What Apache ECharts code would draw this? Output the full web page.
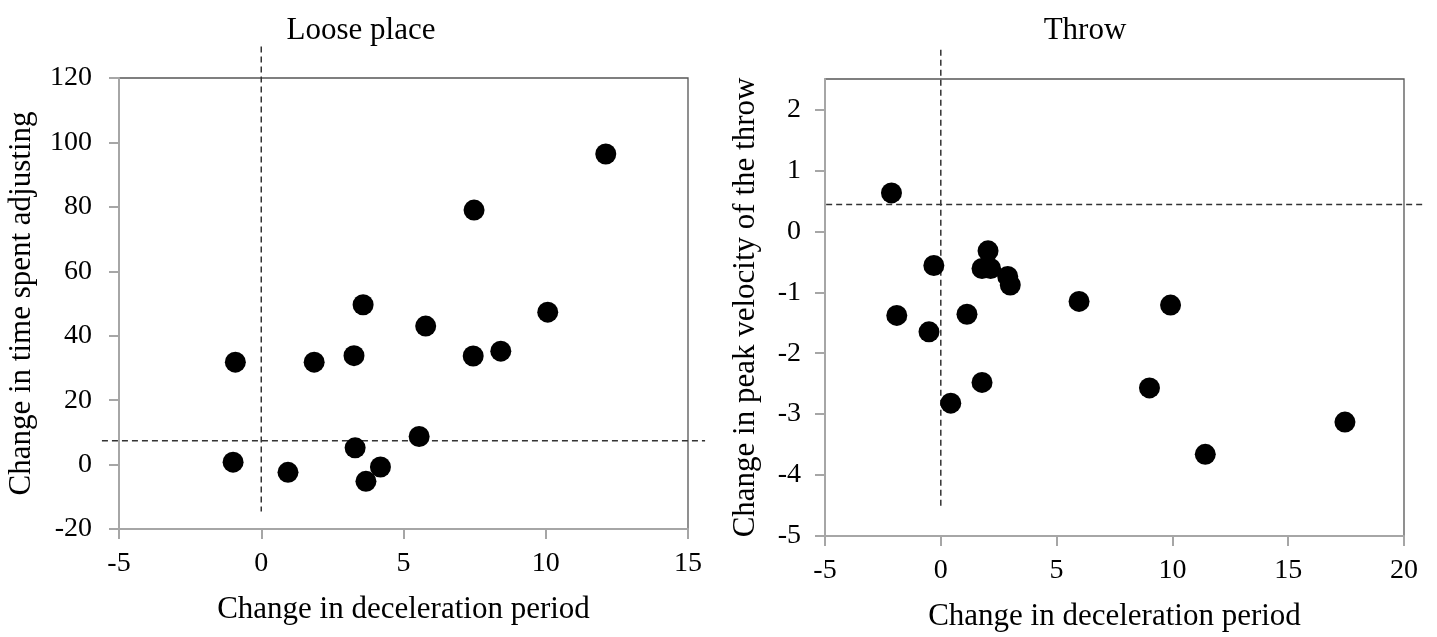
<!doctype html>
<html lang="en">
<head>
  <meta charset="utf-8">
  <title>Loose place / Throw</title>
  <script src="https://cdn.jsdelivr.net/npm/echarts@6/dist/echarts.min.js"></script>
  <style>
    html, body { margin: 0; padding: 0; background: #fff; }
    #chart { width: 1437px; height: 637px; }
  </style>
</head>
<body>
  <div id="chart"></div>
  <script>
    // Loose place panel
    var looseX = [-0.91, -0.99, 0.94, 1.86, 3.26, 3.58, 3.30, 3.68, 4.19, 5.55, 5.78, 7.48, 7.45, 8.42, 10.07, 12.11];
    var looseY = [31.8, 0.75, -2.4, 31.8, 33.8, 49.6, 5.2, -5.2, -0.75, 8.7, 43.0, 79.0, 33.7, 35.2, 47.3, 96.4];
    // reference lines (dashed), they run a bit past the plot box
    var looseVLine = [[0, 129.8], [0, -14.6]];
    var looseHLine = [[-5.6, 7.4], [15.6, 7.4]];

    // Throw panel
    var throwX = [-2.13, -1.90, -0.51, -0.30, 0.43, 1.13, 1.78, 1.78, 2.15, 2.04, 2.89, 3.00, 5.97, 9.92, 9.01, 11.42, 17.45];
    var throwY = [0.63, -1.38, -1.65, -0.56, -2.82, -1.36, -2.48, -0.61, -0.61, -0.32, -0.74, -0.88, -1.15, -1.21, -2.57, -3.66, -3.13];
    var throwVLine = [[0, 2.98], [0, -4.55]];
    var throwHLine = [[-4.95, 0.44], [20.94, 0.44]];
    var throwYTicks = [-5, -4, -3, -2, -1, 0, 1, 2];

    function pairs(xs, ys) {
      var out = [];
      for (var i = 0; i < xs.length; i++) out.push([xs[i], ys[i]]);
      return out;
    }

    var FONT = 'Liberation Serif';
    var axisGray = '#a6a6a6';

    function xAxisOf(idx, min, max) {
      return {
        gridIndex: idx, type: 'value', min: min, max: max, interval: 5,
        name: 'Change in deceleration period', nameLocation: 'middle', nameGap: 65,
        nameTextStyle: { fontFamily: FONT, fontSize: 31, color: '#000' },
        axisLine: { onZero: false, lineStyle: { color: axisGray, width: 2 } },
        axisTick: { length: 10, lineStyle: { color: axisGray, width: 2 } },
        axisLabel: { fontFamily: FONT, fontSize: 28, color: '#000', margin: 21 },
        splitLine: { show: false }
      };
    }

    function dots(idx, data) {
      return {
        type: 'scatter', xAxisIndex: idx, yAxisIndex: idx, data: data,
        symbolSize: 21, itemStyle: { color: '#000', opacity: 1 }, z: 3
      };
    }

    var chart = echarts.init(document.getElementById('chart'), null, { renderer: 'canvas' });

    var option = {
      animation: false,
      backgroundColor: '#fff',
      title: [
        { text: 'Loose place', left: 356, top: 10, textAlign: 'center',
          textStyle: { fontFamily: FONT, fontSize: 31, fontWeight: 'normal', color: '#000' } },
        { text: 'Throw', left: 1080, top: 10, textAlign: 'center',
          textStyle: { fontFamily: FONT, fontSize: 31, fontWeight: 'normal', color: '#000' } }
      ],
      grid: [
        { left: 119, top: 78, width: 569, height: 451, show: true, borderColor: '#555', borderWidth: 1.3 },
        { left: 825, top: 79, width: 579, height: 461, show: true, borderColor: '#555', borderWidth: 1.3 }
      ],
      xAxis: [
        xAxisOf(0, -5, 15),
        xAxisOf(1, -5, 20)
      ],
      yAxis: [
        {
          gridIndex: 0, type: 'value', min: -20, max: 120, interval: 20,
          name: 'Change in time spent adjusting', nameLocation: 'middle', nameGap: 82,
          nameTextStyle: { fontFamily: FONT, fontSize: 31, color: '#000' },
          axisLine: { show: true, onZero: false, lineStyle: { color: axisGray, width: 2 } },
          axisTick: { show: true, length: 10, lineStyle: { color: axisGray, width: 2 } },
          axisLabel: { fontFamily: FONT, fontSize: 28, color: '#000', margin: 27 },
          splitLine: { show: false }
        },
        {
          gridIndex: 1, type: 'value', min: -5, max: 2.5,
          name: 'Change in peak velocity of the throw', nameLocation: 'middle', nameGap: 64,
          nameTextStyle: { fontFamily: FONT, fontSize: 31, color: '#000' },
          axisLine: { show: true, onZero: false, lineStyle: { color: axisGray, width: 2 } },
          axisTick: { show: true, length: 10, customValues: throwYTicks, lineStyle: { color: axisGray, width: 2 } },
          axisLabel: { fontFamily: FONT, fontSize: 28, color: '#000', margin: 24, customValues: throwYTicks },
          splitLine: { show: false }
        }
      ],
      series: [
        dots(0, pairs(looseX, looseY)),
        dots(1, pairs(throwX, throwY))
      ]
    };

    chart.setOption(option);

    // dashed reference lines: ends go outside the axis range, so place them
    // with the chart's own scales and draw them as graphic lines
    function dashLine(gridIdx, seg) {
      var a = chart.convertToPixel({ gridIndex: gridIdx }, seg[0]);
      var b = chart.convertToPixel({ gridIndex: gridIdx }, seg[1]);
      return {
        type: 'line', silent: true, z: 1,
        shape: { x1: a[0], y1: a[1], x2: b[0], y2: b[1] },
        style: { stroke: '#333', lineWidth: 1.5, lineDash: [6, 4] }
      };
    }

    chart.setOption({
      graphic: [
        dashLine(0, looseVLine),
        dashLine(0, looseHLine),
        dashLine(1, throwVLine),
        dashLine(1, throwHLine)
      ]
    });
  </script>
</body>
</html>
